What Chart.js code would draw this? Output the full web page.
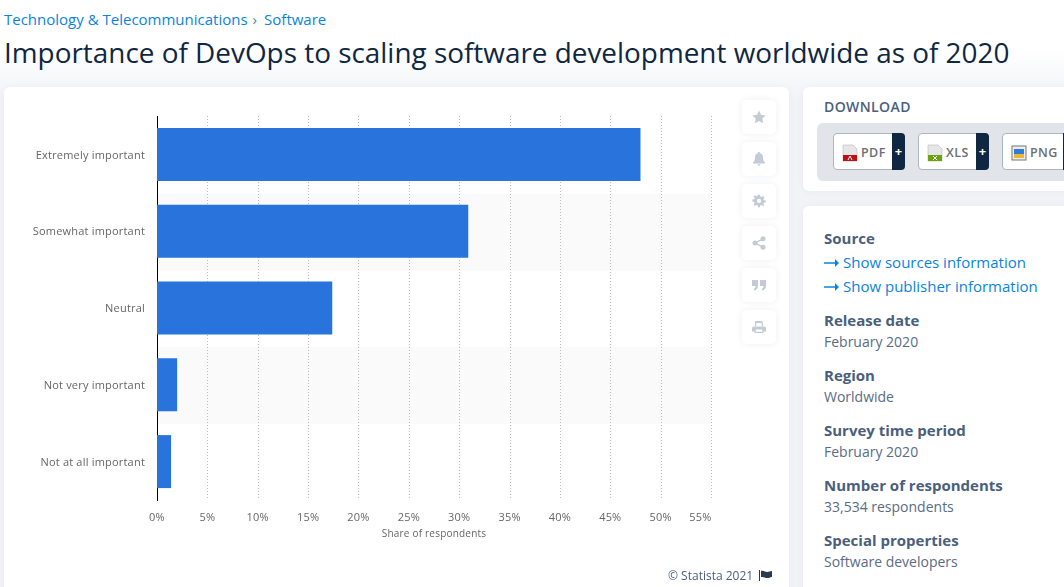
<!DOCTYPE html>
<html>
<head>
<meta charset="utf-8">
<title>Importance of DevOps</title>
<script src="https://cdn.jsdelivr.net/npm/chart.js@4"></script>
<style>
html, body { margin: 0; padding: 0; }
body { width: 1064px; height: 587px; position: relative; overflow: hidden; font-family: "Open Sans", sans-serif;
  background: linear-gradient(#fff 0, #fff 50px, #f1f3f7 100px); }
.abs { position: absolute; white-space: nowrap; }
.crumb { left: 4px; top: 9px; font-size: 15px; line-height: 20px; color: #0a84e0; }
.crumb i { font-style: normal; color: #6a7a90; margin: 0 7px 0 5px; }
h1 { margin: 0; left: 4px; top: 33px; font-size: 27.9px; line-height: 38px; font-weight: 500; color: #0f2741; }
.card { position: absolute; background: #fff; border-radius: 6px; box-shadow: 0 0 8px rgba(30,50,90,.04); }
#chartCard { left: 4px; top: 87px; width: 785px; height: 520px; }
#chartWrap { position: absolute; left: 0; top: 0; width: 785px; height: 500px; }
.tool { position: absolute; left: 742px; width: 34px; height: 34px; background: #fff; border-radius: 5px;
  box-shadow: 0 0 7px rgba(30,50,90,.08); }
.tool svg { position: absolute; left: 10px; top: 10px; width: 14px; height: 14px; fill: #c4cbd6; }
.dlhead { left: 824px; top: 97px; font-size: 14px; line-height: 20px; letter-spacing: .4px; font-weight: 600; color: #4a5f7e; }
.dlbox { position: absolute; left: 817px; top: 123px; width: 260px; height: 58px; background: #e1e4e9; border-radius: 6px; }
.btn { position: absolute; top: 133px; height: 35px; background: #fff; border: 1px solid #aab6c8; border-radius: 4px; }
.btn b { position: absolute; top: 9px; font-size: 12.5px; line-height: 20px; font-weight: 600; letter-spacing: .4px; color: #6b6f75; }
.btn u { position: absolute; right: -1px; top: -1px; width: 13px; height: 37px; background: #0f2741; border-radius: 0 4px 4px 0;
  text-decoration: none; color: #fff; font-size: 13px; font-weight: 700; line-height: 36px; text-align: center; }
.btn svg { position: absolute; left: 8px; top: 10px; width: 16px; height: 18px; }
.head { left: 824px; font-size: 15px; line-height: 20px; font-weight: 700; color: #4a5f7e; }
.val { left: 824px; font-size: 14px; line-height: 20px; color: #5a6c85; }
.link { left: 824px; font-size: 15px; line-height: 20px; color: #0a84e0; }
.copy { left: 668px; top: 567px; font-size: 12px; line-height: 18px; color: #4a5f7e; }
</style>
</head>
<body>
<div class="abs crumb">Technology &amp; Telecommunications<i>›</i>Software</div>
<h1 class="abs">Importance of DevOps to scaling software development worldwide as of 2020</h1>

<div class="card" id="chartCard"><div id="chartWrap"><canvas id="myChart"></canvas></div></div>

<div class="tool" style="top:100px"><svg viewBox="0 0 14 14"><path d="M7 .5l2 4.3 4.7.6-3.4 3.2.9 4.7L7 11l-4.200 2.300.9-4.700L.3 5.400 5 4.800z"/></svg></div>
<div class="tool" style="top:142px"><svg viewBox="0 0 14 14"><path d="M7 0a1.200 1.200 0 0 1 1.200 1.300C10.500 2 11 4 11 6c0 2.500 1 3.500 2 4.500v1H1v-1C2 9.500 3 8.500 3 6c0-2 .5-4 2.800-4.700A1.200 1.200 0 0 1 7 0zM5.500 12.300h3a1.500 1.500 0 0 1-3 0z"/></svg></div>
<div class="tool" style="top:184px"><svg viewBox="0 0 14 14"><path fill-rule="evenodd" d="M6 .8h2l.3 1.700 1.200.5L11 2l1.400 1.400-1 1.500.5 1.200 1.800.3v2l-1.800.3-.5 1.200 1 1.500L11 12l-1.500-1-1.200.5L8 13.200H6l-.3-1.700-1.200-.5L3 12l-1.400-1.400 1-1.500-.5-1.200L.3 7.600v-2l1.800-.3.5-1.200-1-1.500L3 1.200l1.500 1 1.200-.5zM7 4.800a2 2 0 1 0 0 4.200 2 2 0 0 0 0-4.200z"/></svg></div>
<div class="tool" style="top:226px"><svg viewBox="0 0 14 14"><circle cx="3" cy="7" r="2.500"/><circle cx="11" cy="2.800" r="2.500"/><circle cx="11" cy="11.200" r="2.500"/><path d="M3 6.300l7.600-4 .6 1.200-7.600 4zM3 7.700l7.600 4 .6-1.200-7.600-4z"/></svg></div>
<div class="tool" style="top:268px"><svg viewBox="0 0 14 14"><path d="M0 2h6v6c0 2.500-1.500 4-4 4.500V10.500c1-.3 1.500-1 1.500-2.500H0zM8 2h6v6c0 2.500-1.500 4-4 4.500V10.500c1-.3 1.500-1 1.500-2.500H8z"/></svg></div>
<div class="tool" style="top:310px"><svg viewBox="0 0 14 14"><path d="M3 1h6.500L11 2.500V6H9.800V3H4.200v3H3zM1.500 6.500h11A1.500 1.500 0 0 1 14 8v3.500h-2.500V13h-9v-1.500H0V8a1.500 1.500 0 0 1 1.500-1.500zM3.700 9.500v2.300h6.600V9.500z"/></svg></div>

<div class="card" style="left:803px;top:87px;width:280px;height:104px"></div>
<div class="abs dlhead">DOWNLOAD</div>
<div class="dlbox"></div>
<div class="btn" style="left:833px;width:70px"><svg viewBox="0 0 16 18"><path d="M1 1h10l4 4v12H1z" fill="#e6e6e6" stroke="#bbb" stroke-width=".6"/><rect x="1" y="11" width="14" height="6" fill="#c40d12"/><path d="M6 16l2-4 2 4" fill="none" stroke="#fff"/></svg><b style="left:27px">PDF</b><u>+</u></div>
<div class="btn" style="left:918px;width:69px"><svg viewBox="0 0 16 18"><path d="M1 1h10l4 4v12H1z" fill="#e6e6e6" stroke="#bbb" stroke-width=".6"/><rect x="1" y="11" width="14" height="6" fill="#6aa510"/><path d="M6 12l4 4M10 12l-4 4" fill="none" stroke="#fff"/></svg><b style="left:27px">XLS</b><u>+</u></div>
<div class="btn" style="left:1002px;width:80px"><svg viewBox="0 0 16 18"><rect x="1" y="2" width="14" height="14" fill="#eee" stroke="#777"/><rect x="3" y="5" width="10" height="5" fill="#2e7dd6"/><rect x="3" y="10" width="10" height="4" fill="#e8b83a"/></svg><b style="left:27px">PNG</b><u style="right:auto;left:60px">+</u></div>

<div class="card" style="left:803px;top:206px;width:280px;height:400px"></div>
<div class="abs head" style="top:228px">Source</div>
<div class="abs link" style="top:252px"><svg width="15" height="8" viewBox="0 0 15 8" style="margin-right:4px;vertical-align:1px"><path d="M0 3.200h11V0l4 4-4 4V4.800H0z" fill="#0a84e0"/></svg>Show sources information</div>
<div class="abs link" style="top:276px"><svg width="15" height="8" viewBox="0 0 15 8" style="margin-right:4px;vertical-align:1px"><path d="M0 3.200h11V0l4 4-4 4V4.800H0z" fill="#0a84e0"/></svg>Show publisher information</div>
<div class="abs head" style="top:310px">Release date</div>
<div class="abs val" style="top:332px">February 2020</div>
<div class="abs head" style="top:365px">Region</div>
<div class="abs val" style="top:387px">Worldwide</div>
<div class="abs head" style="top:420px">Survey time period</div>
<div class="abs val" style="top:442px">February 2020</div>
<div class="abs head" style="top:475px">Number of respondents</div>
<div class="abs val" style="top:497px">33,534 respondents</div>
<div class="abs head" style="top:530px">Special properties</div>
<div class="abs val" style="top:552px">Software developers</div>

<div class="abs copy">© Statista 2021 <svg width="13" height="11" viewBox="0 0 13 11" style="margin-left:3px;vertical-align:-1px"><path d="M0 0h1v11H0zM2 1c3-1 4 1 6 1s3-1 5-1v6c-2 .5-3 1-5 1S5 6.500 2 7z" fill="#2a3a50"/></svg></div>

<script>
var categories = ["Extremely important", "Somewhat important", "Neutral", "Not very important", "Not at all important"];
var shares = [48, 30.9, 17.4, 2, 1.4];
var tickValues = [0, 5, 10, 15, 20, 25, 30, 35, 40, 45, 50, 55];
var axisTitle = "Share of respondents";

// grey stripe behind every second category
var stripes = {
    id: 'stripes',
    beforeDatasetsDraw: function(chart) {
        var ctx = chart.ctx, area = chart.chartArea, y = chart.scales.y;
        ctx.save();
        ctx.fillStyle = '#fafafa';
        categories.forEach(function(c, i) {
            if (i % 2 == 1) {
                var top = Math.round(y.getPixelForValue(i - 0.5)) + 1;
                // start right of the axis line so it stays visible
                ctx.fillRect(area.left + 1, top, area.width - 1, Math.round(y.getPixelForValue(i + 0.5)) + 1 - top);
            }
        });
        ctx.restore();
    }
};

// chart text sits letter spaced in the original
var spacing = {
    id: 'spacing',
    beforeDraw: function(chart) { chart.ctx.letterSpacing = '0.2px'; }
};

// dotted grid lines, the axis option only dashes the border
var dotted = {
    id: 'dotted',
    beforeDatasetsDraw: function(chart) {
        var ctx = chart.ctx, area = chart.chartArea, x = chart.scales.x;
        ctx.save();
        ctx.strokeStyle = '#bcbcbc';
        ctx.lineWidth = 1;
        ctx.setLineDash([1, 2]);
        tickValues.forEach(function(v) {
            if (v > 0) {
                var px = Math.round(x.getPixelForValue(v)) + 0.5;
                ctx.beginPath();
                ctx.moveTo(px, area.top);
                ctx.lineTo(px, area.bottom);
                ctx.stroke();
            }
        });
        ctx.restore();
    }
};

new Chart("myChart", {
    type: "bar",
    data: {
        labels: categories,
        datasets: [{ data: shares, backgroundColor: "#2874dc", barPercentage: 0.69, categoryPercentage: 1 }]
    },
    plugins: [stripes, dotted, spacing],
    options: {
        indexAxis: 'y',
        responsive: true,
        maintainAspectRatio: false,
        animation: false,
        events: [],
        layout: { padding: { top: 29, right: 78, bottom: 43, left: 0 } },
        plugins: { legend: { display: false }, tooltip: { enabled: false } },
        scales: {
            x: {
                min: 0, max: 55,
                afterBuildTicks: function(scale) {
                    scale.ticks = tickValues.map(function(v) { return { value: v }; });
                },
                afterFit: function(scale) { scale.height = 44; },
                grid: { display: false, drawTicks: false },
                border: { display: false },
                ticks: {
                    maxRotation: 0, autoSkip: false, padding: 11, color: '#666',
                    font: { family: "Open Sans", size: 11 },
                    // the last label is pulled back inside the plot
                    callback: function(v) { return v == 55 ? v + '%\u00a0\u00a0\u00a0\u00a0\u00a0\u00a0\u00a0' : v + '%'; }
                },
                title: { display: true, text: axisTitle, color: '#666', padding: { top: 0 }, font: { family: "Open Sans", size: 10 } }
            },
            y: {
                afterFit: function(scale) { scale.width = 153; },
                grid: { display: false },
                border: { color: '#000', width: 1 },
                ticks: { padding: 4, labelOffset: 1, color: '#666', font: { family: "Open Sans", size: 11 } }
            }
        }
    }
});
</script>
</body>
</html>
